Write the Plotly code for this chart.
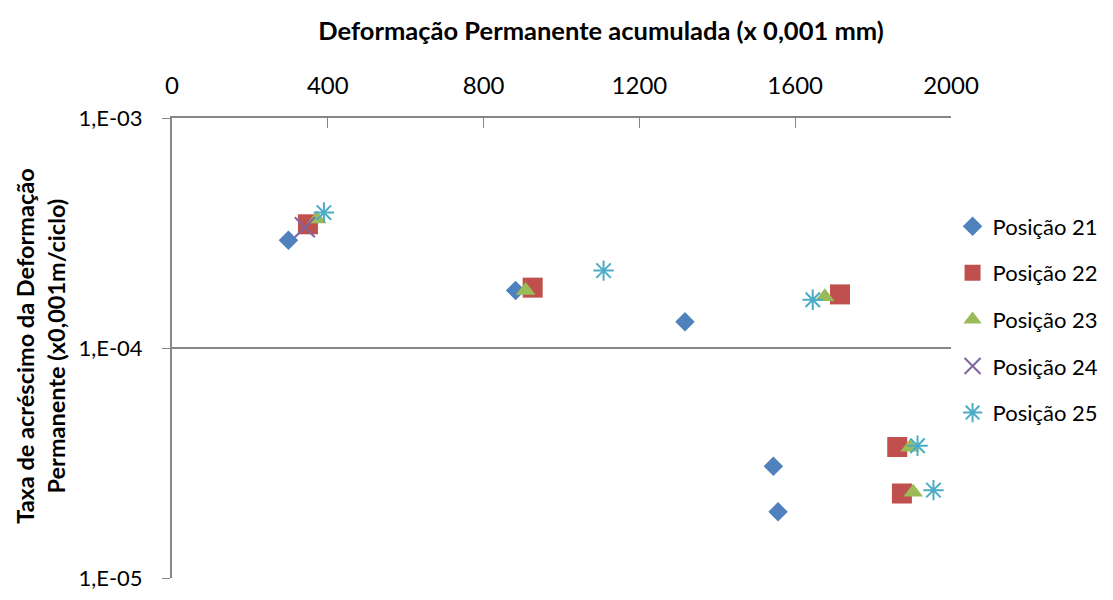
import plotly.graph_objects as go

# Deformação permanente acumulada (x 0,001 mm) vs taxa de acréscimo
series_names = ["Posição 21", "Posição 22", "Posição 23", "Posição 24", "Posição 25"]

x_p21 = [299, 882, 1317, 1544, 1556]
y_p21 = [2.94e-4, 1.78e-4, 1.30e-4, 3.06e-5, 1.94e-5]

x_p22 = [349, 926, 1715, 1862, 1874]
y_p22 = [3.45e-4, 1.83e-4, 1.71e-4, 3.71e-5, 2.33e-5]

x_p23 = [372, 908, 1676, 1895, 1903]
y_p23 = [3.64e-4, 1.78e-4, 1.67e-4, 3.70e-5, 2.36e-5]

x_p24 = [341]
y_p24 = [3.35e-4]

x_p25 = [390, 1108, 1645, 1914, 1955]
y_p25 = [3.88e-4, 2.17e-4, 1.62e-4, 3.76e-5, 2.41e-5]

y_tickvals = [1e-5, 1e-4, 1e-3]
y_ticktext = ["1,E-05", "1,E-04", "1,E-03"]
x_tickvals = [0, 400, 800, 1200, 1600, 2000]

xs = [x_p21, x_p22, x_p23, x_p24, x_p25]
ys = [y_p21, y_p22, y_p23, y_p24, y_p25]
colors = ["#4F81BD", "#C0504D", "#9BBB59", "#8064A2", "#4BACC6"]
symbols = ["diamond", "square", "triangle-up", "x-thin-open", "asterisk-open"]
sizes = [15, 20, 17, 20, 17]
line_w = [0, 0, 0, 2, 2]

fig = go.Figure()
for i in range(len(series_names)):
    fig.add_trace(go.Scatter(
        x=xs[i], y=ys[i], mode="markers", name=series_names[i],
        legendgroup=series_names[i],
        marker=dict(symbol=symbols[i], color=colors[i], size=sizes[i],
                    line=dict(color=colors[i], width=line_w[i])),
    ))

font = "Lato, Open Sans, sans-serif"
fig.update_layout(
    width=1097, height=584,
    paper_bgcolor="white", plot_bgcolor="white",
    margin=dict(l=164, r=154, t=110, b=14, autoexpand=False),
    font=dict(family=font, size=22, color="#000000"),
    title=dict(text="<b>Deformação Permanente acumulada (x 0,001 mm)</b>",
               x=0.5406, xanchor="center", y=0.9606, yanchor="middle",
               font=dict(size=25.5)),
    legend=dict(x=1.002, y=0.81, xanchor="left", yanchor="top",
                font=dict(size=22), tracegroupgap=15, itemwidth=30),
    annotations=[dict(
        text="<b>Taxa de acréscimo da Deformação<br>Permanente (x0,001m/ciclo)</b>",
        xref="paper", yref="paper", x=-0.168, y=0.505,
        xanchor="center", yanchor="middle", textangle=-90,
        showarrow=False, font=dict(size=23.5),
    )],
)
fig.update_xaxes(
    range=[0, 2000], side="top", tickvals=x_tickvals,
    showline=True, linecolor="#868686", linewidth=2,
    ticks="inside", tickcolor="#868686", ticklen=10, ticklabelstandoff=12,
    tickfont=dict(size=24),
    showgrid=False, zeroline=False,
)
fig.update_yaxes(
    type="log", range=[-5, -3], tickvals=y_tickvals, ticktext=y_ticktext,
    showline=True, linecolor="#868686", linewidth=2,
    ticks="outside", tickcolor="#868686", ticklen=8, ticklabelstandoff=15,
    ticklabeloverflow="allow",
    showgrid=True, gridcolor="#868686", gridwidth=2,
)

fig.write_html("out.html")
